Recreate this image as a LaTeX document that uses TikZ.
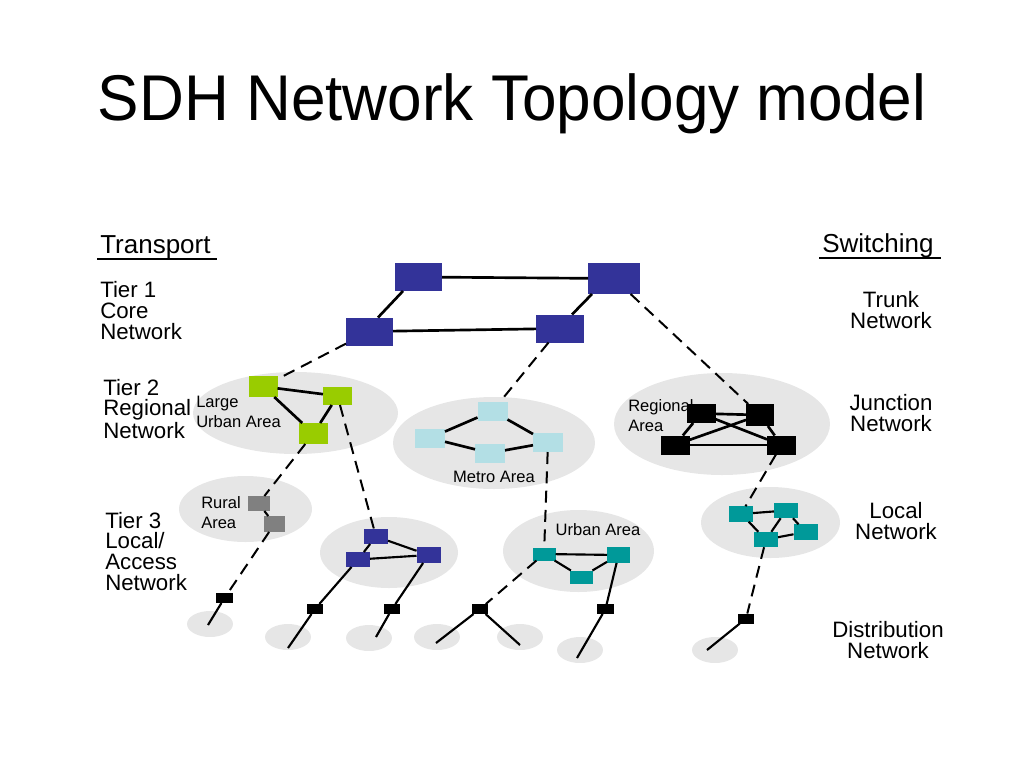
\documentclass[tikz,border=0pt]{standalone}
\usepackage{fontspec}
\setmainfont{Liberation Sans}
\usepackage{graphicx}
\definecolor{coreblue}{RGB}{51,51,153}
\definecolor{limegreen}{RGB}{153,204,0}
\definecolor{metrocyan}{RGB}{179,223,229}
\definecolor{tealgreen}{RGB}{0,153,153}
\definecolor{ruralgray}{RGB}{128,128,128}
\definecolor{areagray}{RGB}{230,230,230}
\tikzset{
  box/.style={rectangle, inner sep=0pt, outer sep=0pt},
  corebox/.style={box, fill=coreblue, minimum width=35.25pt, minimum height=21pt},
  greenbox/.style={box, fill=limegreen, minimum width=21.75pt, minimum height=15pt},
  metrobox/.style={box, fill=metrocyan, minimum width=22.5pt, minimum height=14.25pt},
  regbox/.style={box, fill=black, minimum width=21.75pt, minimum height=14.25pt},
  ruralbox/.style={box, fill=ruralgray, minimum width=16.5pt, minimum height=11.25pt},
  tierbox/.style={box, fill=coreblue, minimum width=18pt, minimum height=11.25pt},
  urbanbox/.style={box, fill=tealgreen, minimum width=17.25pt, minimum height=9.75pt},
  localbox/.style={box, fill=tealgreen, minimum width=18pt, minimum height=11.6pt},
  distbox/.style={box, fill=black, minimum width=12.4pt, minimum height=7.5pt},
  area/.style={fill=areagray},
  link/.style={line width=2pt},
  thinlink/.style={line width=1.6pt},
  dashlink/.style={line width=1.5pt, dash pattern=on 9pt off 5.5pt},
  lbl/.style={inner sep=0pt, align=left, font=\fontsize{16.7}{15.4}\selectfont},
  clbl/.style={inner sep=0pt, align=center, font=\fontsize{16.7}{15.4}\selectfont},
  small/.style={inner sep=0pt, align=left, font=\fontsize{12.4}{15}\selectfont},
  hdr/.style={inner sep=0pt, font=\fontsize{19.5}{23}\selectfont}
}
\begin{document}
\begin{tikzpicture}[x=0.75pt,y=-0.75pt]
  \useasboundingbox (0,0) rectangle (1024,768);

  \node[anchor=base, inner sep=0pt] (title) at (512,120)
    {\scalebox{0.96}[1]{\fontsize{48.5}{58}\selectfont SDH Network Topology model}};

  % headings and tier labels (base = last line)
  \node[hdr, anchor=base west] (tr) at (100,253) {Transport};
  \draw[line width=1.1pt] ([xshift=-2.25pt,yshift=-4.5pt]tr.base west) -- ([xshift=5pt,yshift=-4.5pt]tr.base east);
  \node[hdr, anchor=base west] (sw) at (822,252) {Switching};
  \draw[line width=1.1pt] ([xshift=-2.25pt,yshift=-4.5pt]sw.base west) -- ([xshift=5.5pt,yshift=-4.5pt]sw.base east);

  \node[lbl, anchor=base west] (tier1) at (100,339) {Tier 1\\Core\\Network};
  \node[lbl, anchor=base west] (tier2) at (103,438) {Tier 2\\Regional\\Network};
  \node[lbl, anchor=base west] (tier3) at (105,590) {Tier 3\\Local/\\Access\\Network};
  \node[clbl, anchor=base] (trunk) at (891,328) {Trunk\\Network};
  \node[clbl, anchor=base] (junc) at (891,431) {Junction\\Network};
  \node[clbl, anchor=base] (loc) at (896,539) {Local\\Network};
  \node[clbl, anchor=base] (dist) at (888,658) {Distribution\\Network};

  % areas
  \fill[area] (295.5,413) ellipse [x radius=102.5, y radius=41];
  \fill[area] (494,443) ellipse [x radius=101, y radius=46];
  \fill[area] (722,424) ellipse [x radius=108, y radius=51];
  \fill[area] (245.5,509) ellipse [x radius=66.5, y radius=33];
  \fill[area] (389,552.5) ellipse [x radius=69, y radius=35.5];
  \fill[area] (578.5,551) ellipse [x radius=75.5, y radius=41];
  \fill[area] (770.5,522.5) ellipse [x radius=69.5, y radius=35.5];
  \foreach \x/\y in {210/624, 288/637, 369/638, 437/637, 520/637, 580/650, 715/650}
    \fill[area] (\x,\y) ellipse [x radius=23, y radius=13];

  \node[small, anchor=base west] (lua) at (196,427) {Large\\Urban Area};
  \node[small, anchor=base west] (rga) at (628,431) {Regional\\Area};
  \node[small, anchor=base west] (rua) at (201,528) {Rural\\Area};
  \node[small, anchor=base] (mta) at (494,482) {Metro Area};
  \node[small, anchor=base] (uba) at (598,535) {Urban Area};

  % tier 1
  \node[corebox] (cA) at (418.5,277) {};
  \node[corebox, minimum width=39pt, minimum height=23.25pt] (cB) at (614,278.5) {};
  \node[corebox] (cC) at (369.5,331.5) {};
  \node[corebox, minimum width=36pt] (cD) at (560,328.5) {};

  % tier 2
  \node[greenbox, minimum height=15.75pt] (g1) at (263,386.5) {};
  \node[greenbox, minimum height=13.5pt] (g2) at (337.5,396) {};
  \node[greenbox, minimum height=15.75pt] (g3) at (313.5,433.5) {};

  \node[metrobox] (m1) at (492.5,411) {};
  \node[metrobox] (m2) at (430,438) {};
  \node[metrobox] (m3) at (490,453) {};
  \node[metrobox] (m4) at (548,442.5) {};

  \node[regbox] (r1) at (701,413.5) {};
  \node[regbox, minimum width=21pt, minimum height=16.5pt] (r2) at (760,415) {};
  \node[regbox] (r3) at (675,445) {};
  \node[regbox] (r4) at (781.5,445) {};

  % tier 3
  \node[ruralbox] (ru1) at (258.5,503.5) {};
  \node[ruralbox, minimum width=15.75pt, minimum height=12pt] (ru2) at (274.5,524) {};

  \node[tierbox] (b1) at (376,536.5) {};
  \node[tierbox] (b2) at (358,559.5) {};
  \node[tierbox, minimum height=12pt] (b3) at (428.5,555) {};

  \node[urbanbox] (u1) at (544,554) {};
  \node[urbanbox, minimum height=12pt] (u2) at (618.5,555) {};
  \node[urbanbox] (u3) at (581.5,577) {};

  \node[localbox] (l1) at (741,514) {};
  \node[localbox] (l2) at (786,510.5) {};
  \node[localbox] (l3) at (766,539.5) {};
  \node[localbox] (l4) at (805.5,532) {};

  % distribution
  \node[distbox] (k1) at (224.5,598) {};
  \node[distbox] (k2) at (315,609) {};
  \node[distbox] (k3) at (392,609) {};
  \node[distbox] (k4) at (480,609) {};
  \node[distbox] (k5) at (605.5,609) {};
  \node[distbox] (k6) at (746,618.5) {};

  \coordinate (t1) at (208,625);
  \coordinate (t2) at (288,648);
  \coordinate (t3) at (376,637);
  \coordinate (t4) at (436,643);
  \coordinate (t5) at (520,645);
  \coordinate (t6) at (577,658);
  \coordinate (t7) at (707,650);

  % links
  \draw[link] (cA) -- (cB);
  \draw[link] (cC) -- (cD);
  \draw[link] ([xshift=6pt]cA.south west) -- ([xshift=-11.25pt]cC.north east);
  \draw[link] ([xshift=3pt]cB.south west) -- ([xshift=-9pt]cD.north east);

  \draw[link] (g1) -- (g2);
  \draw[link] (g1) -- (g3);
  \draw[link] (g2) -- (g3);

  \draw[link] (m2) -- (m1);
  \draw[link] (m1) -- (m4);
  \draw[link] (m2) -- (m3);
  \draw[link] (m3) -- (m4);

  \foreach \a/\b in {r1/r2, r1/r3, r1/r4, r2/r3, r2/r4, r3/r4}
    \draw[link] (\a) -- (\b);

  \draw[thinlink] (ru1) -- (ru2);
  \draw[thinlink] (b1) -- (b2);
  \draw[thinlink] (b1) -- (b3);
  \draw[thinlink] (b2) -- (b3);
  \draw[thinlink] (u1) -- (u2);
  \draw[thinlink] (u1) -- (u3);
  \draw[thinlink] (u2) -- (u3);
  \draw[thinlink] (l1) -- (l2);
  \draw[thinlink] (l1) -- (l3);
  \draw[thinlink] (l2) -- (l3);
  \draw[thinlink] (l2) -- (l4);
  \draw[thinlink] (l3) -- (l4);

  \draw[thinlink] (b2) -- (k2);
  \draw[thinlink] (b3) -- (k3);
  \draw[thinlink] (u2) -- (k5);

  \foreach \a/\b in {k1/t1, k2/t2, k3/t3, k4/t4, k4/t5, k5/t6, k6/t7}
    \draw[thinlink] (\a) -- (\b);

  \draw[dashlink] (cC) -- (g1);
  \draw[dashlink] (cD) -- (m1);
  \draw[dashlink] (cB) -- (r2);
  \draw[dashlink] (g2) -- (b1);
  \draw[dashlink] (g3) -- (ru1);
  \draw[dashlink] (ru2) -- (k1);
  \draw[dashlink] (m4) -- (u1);
  \draw[dashlink] (u1) -- (k4);
  \draw[dashlink] (r4) -- (l1);
  \draw[dashlink] (l3) -- (k6);
\end{tikzpicture}
\end{document}
